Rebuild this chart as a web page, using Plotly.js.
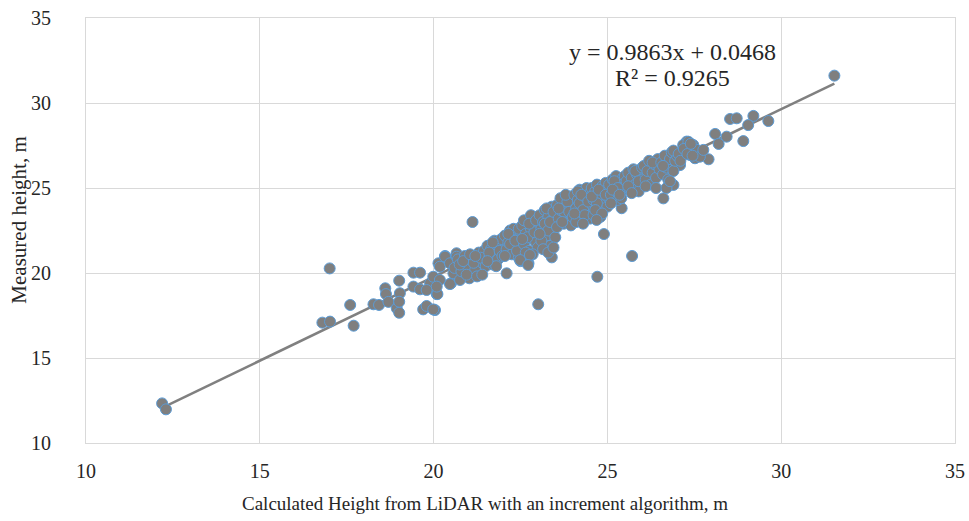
<!DOCTYPE html>
<html>
<head>
<meta charset="utf-8">
<script src="https://cdn.plot.ly/plotly-3.0.1.min.js"></script>
<style>html,body{margin:0;padding:0;background:#fff;}#chart{width:969px;height:521px;}</style>
</head>
<body>
<div id="chart"></div>
<script>
// Calculated height from LiDAR (x) and measured height (y), metres
const lidarHeight = [
  12.19,12.30,17.01,16.80,17.02,17.60,17.70,18.27,18.43,18.61,
  18.63,18.70,18.94,19.01,19.01,19.03,19.01,19.42,19.61,19.42,
  19.61,19.70,19.80,20.04,20.09,19.90,19.80,20.14,20.33,20.66,
  20.50,21.03,21.12,22.10,23.01,24.71,25.71,24.90,25.41,23.40,
  22.73,26.61,26.90,27.91,31.53,28.53,28.72,29.20,29.05,29.63,
  28.91,28.10,28.20,28.43,27.28,27.47,27.18,27.33,27.57,27.38,
  27.52,27.66,27.76,27.09,22.70,19.99,20.47,20.11,20.18,20.33,
  20.47,20.66,20.85,21.05,21.24,19.99,20.18,20.09,20.57,20.76,
  20.60,20.70,20.80,20.90,21.00,21.10,21.20,21.30,21.40,21.45,
  20.75,20.95,21.15,21.25,21.35,21.50,20.85,21.05,21.20,21.40,
  21.55,21.60,21.65,21.70,21.75,21.80,21.85,21.90,21.95,21.60,
  21.70,21.80,21.90,21.55,21.98,22.05,22.10,22.15,22.20,22.25,
  22.30,22.35,22.40,22.45,22.50,22.05,22.20,22.30,22.40,22.50,
  22.15,22.35,22.45,22.55,22.60,22.65,22.70,22.75,22.80,22.85,
  22.90,22.95,23.00,22.60,22.70,22.80,22.90,23.00,22.55,22.75,
  22.85,22.95,22.65,22.49,22.77,22.72,23.35,23.05,23.10,23.15,
  23.20,23.25,23.30,23.35,23.40,23.45,23.50,23.10,23.20,23.30,
  23.40,23.50,23.05,23.25,23.35,23.45,23.15,23.30,23.45,23.55,
  23.60,23.65,23.70,23.75,23.80,23.85,23.90,23.95,24.00,23.55,
  23.65,23.75,23.85,23.95,23.60,23.70,23.80,23.90,24.00,24.05,
  24.10,24.15,24.20,24.25,24.30,24.35,24.40,24.45,24.50,24.10,
  24.20,24.30,24.40,24.50,24.15,24.25,24.35,24.45,24.05,24.55,
  24.60,24.65,24.70,24.75,24.80,24.85,24.90,24.95,25.00,24.60,
  24.70,24.80,24.90,25.00,24.55,24.65,24.75,24.85,24.95,24.69,
  24.30,25.05,25.10,25.15,25.20,25.25,25.30,25.35,25.40,25.45,
  25.50,25.10,25.20,25.30,25.40,25.50,25.15,25.35,25.55,25.60,
  25.65,25.70,25.75,25.80,25.85,25.90,25.95,26.00,25.60,25.70,
  25.80,25.90,26.00,26.05,26.10,26.15,26.20,26.25,26.30,26.35,
  26.40,26.45,26.50,26.10,26.30,26.40,26.55,26.60,26.65,26.70,
  26.75,26.80,26.85,26.90,26.95,27.00,26.60,26.70,26.80,26.90,
  27.05,27.10,27.20,27.30,27.40,27.45
];
const measuredHeight = [
  12.33,11.98,20.27,17.08,17.14,18.12,16.90,18.16,18.12,19.10,
  18.76,18.30,17.92,17.66,19.55,18.81,18.31,20.02,20.02,19.20,
  19.04,17.86,18.06,17.82,18.76,19.39,19.00,20.57,21.00,21.16,
  19.39,19.69,23.00,19.98,18.16,19.78,21.00,22.29,23.81,20.92,
  20.57,24.39,25.18,26.69,31.61,29.06,29.10,29.24,28.70,28.94,
  27.76,28.18,27.59,28.02,27.73,27.53,27.53,27.72,27.24,26.94,
  26.75,26.84,27.24,26.35,20.67,17.86,19.35,18.76,20.37,20.96,
  20.57,20.96,20.57,20.57,20.96,19.78,19.59,19.20,19.98,19.59,
  20.30,20.80,20.10,21.00,20.40,20.90,20.20,21.20,20.60,21.30,
  20.50,19.90,20.60,19.80,20.90,20.40,20.70,21.10,21.00,19.90,
  21.60,20.90,21.40,20.50,21.90,21.20,20.80,21.70,22.00,21.20,
  21.80,20.40,21.30,20.70,21.00,22.20,21.40,21.80,22.50,21.10,
  22.00,21.60,22.40,20.90,22.10,21.00,21.70,22.60,21.30,20.70,
  22.30,21.90,22.60,22.80,21.70,22.30,23.00,21.30,22.60,22.00,
  23.30,21.80,22.80,23.10,22.10,23.40,22.40,21.50,22.00,22.90,
  21.10,23.10,21.20,20.76,21.06,20.47,21.47,23.40,22.60,23.00,
  23.70,22.20,23.30,21.60,23.90,22.80,23.50,21.90,22.90,22.50,
  23.10,22.10,22.30,23.80,23.00,23.60,21.40,21.20,21.50,24.00,
  23.20,23.70,24.30,22.90,23.90,23.40,24.50,23.10,24.10,22.70,
  24.40,23.60,24.20,22.80,23.80,23.00,24.60,23.60,23.30,24.60,
  23.80,24.30,24.90,23.30,24.50,24.00,25.00,23.60,24.70,23.00,
  24.10,23.70,24.40,23.20,24.80,24.60,23.40,24.20,23.50,25.00,
  24.30,24.80,25.20,23.80,24.60,25.10,24.00,25.30,24.50,23.40,
  24.10,23.30,24.80,23.90,24.50,23.70,24.90,23.50,24.60,23.12,
  22.90,25.20,24.60,25.50,24.90,25.70,24.30,25.30,24.80,25.60,
  25.10,24.10,25.40,25.00,24.40,25.70,24.90,24.60,25.40,25.90,
  24.90,25.60,26.10,25.20,25.80,24.80,26.00,25.50,25.10,24.70,
  26.00,25.40,26.20,26.30,25.50,26.00,26.60,25.20,25.90,26.40,
  25.60,26.70,26.10,25.10,26.50,25.00,26.50,25.80,26.90,26.20,
  25.50,26.70,27.10,26.00,26.60,26.90,26.30,25.00,25.40,27.20,
  27.00,26.60,27.30,27.00,27.60,26.90
];
// Excel linear trendline reported on the chart
const trendSlope = 0.9863;
const trendIntercept = 0.0468;
const trendR2 = 0.9265;
const axisTicks = [10, 15, 20, 25, 30, 35];
const xTitle = 'Calculated Height from LiDAR with an increment algorithm, m';
const yTitle = 'Measured height, m';

const xMin = Math.min(...lidarHeight), xMax = Math.max(...lidarHeight);
const trendX = [xMin, xMax];
const trendY = trendX.map(v => trendSlope * v + trendIntercept);

const serif = '"Liberation Serif", "Times New Roman", serif';
const grid = '#d9d9d9';
const ink = '#262626';

const data = [
  {
    x: trendX, y: trendY, type: 'scatter', mode: 'lines',
    line: {color: '#808080', width: 2.5}, hoverinfo: 'skip', showlegend: false
  },
  {
    x: lidarHeight, y: measuredHeight, type: 'scatter', mode: 'markers',
    marker: {size: 11, color: '#7f7f7f', line: {color: '#5b9bd5', width: 1}},
    showlegend: false
  }
];

const axisBase = {
  range: [10, 35], tickvals: axisTicks, ticktext: axisTicks.map(String),
  showgrid: true, gridcolor: grid, gridwidth: 1,
  showline: true, linecolor: grid, linewidth: 1, mirror: true,
  zeroline: false, ticks: '', tickfont: {family: serif, size: 20, color: ink}
};

const layout = {
  width: 969, height: 521,
  margin: {l: 86, r: 14, t: 18, b: 78},
  paper_bgcolor: '#ffffff', plot_bgcolor: '#ffffff',
  font: {family: serif, color: ink},
  xaxis: Object.assign({}, axisBase, {ticklabelstandoff: 10}),
  yaxis: Object.assign({}, axisBase, {ticklabelstandoff: 30}),
  annotations: [
    {
      xref: 'x', yref: 'y', x: 26.86, y: 33.0,
      text: 'y = ' + trendSlope + 'x + ' + trendIntercept,
      showarrow: false, xanchor: 'center', yanchor: 'middle',
      font: {family: serif, size: 24, color: ink}
    },
    {
      xref: 'x', yref: 'y', x: 26.86, y: 31.47,
      text: 'R² = ' + trendR2,
      showarrow: false, xanchor: 'center', yanchor: 'middle',
      font: {family: serif, size: 24, color: ink}
    },
    {
      xref: 'paper', yref: 'paper', x: 0.4586, y: -0.1412,
      text: xTitle, showarrow: false, xanchor: 'center', yanchor: 'middle',
      font: {family: serif, size: 19, color: ink}
    },
    {
      xref: 'paper', yref: 'paper', x: -0.0775, y: 0.5247,
      text: yTitle, textangle: -90, showarrow: false, xanchor: 'center', yanchor: 'middle',
      borderpad: 0,
      font: {family: serif, size: 21, color: ink}
    }
  ]
};

Plotly.newPlot('chart', data, layout, {staticPlot: true, displayModeBar: false});
</script>
</body>
</html>
